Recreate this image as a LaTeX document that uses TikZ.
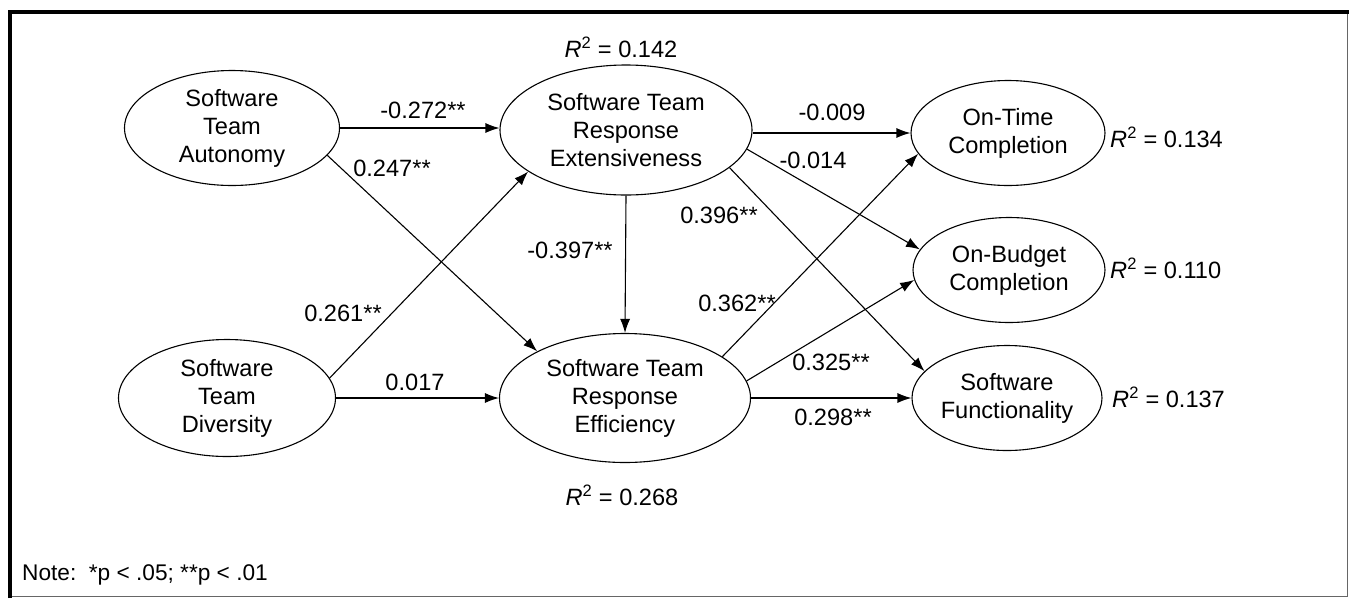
\documentclass[tikz,border=0pt]{standalone}
\usepackage{graphicx}
\usepackage{fontspec}
\setmainfont{Liberation Sans}
\usetikzlibrary{shapes.geometric,arrows.meta}
\newcommand{\rsqlabel}[1]{{\itshape R}\textsuperscript{2} = #1}

\begin{document}
\begin{tikzpicture}[x=1pt,y=-1pt,
  latent/.style={ellipse,draw,line width=1.1pt,inner sep=0pt,align=center,
                 font=\fontsize{23.6}{28}\selectfont},
  link/.style={line width=1.1pt,-{Latex[length=14pt,width=10pt]}},
  coef/.style={inner sep=0pt,font=\fontsize{23.6}{28}\selectfont},
]
\useasboundingbox (0,0) rectangle (1349,598);
\fill[white] (0,0) rectangle (1349,598);

% frame
\draw[line width=1.5pt,black!60] (1347.5,11.5) -- (1347.5,596.5) -- (10,596.5);
\draw[line width=4pt] (10,598) -- (10,11.5) -- (1349,11.5);

% constructs
\node[latent,minimum width=215pt,minimum height=115pt] (auto) at (232,128) {Software\\Team\\Autonomy};
\node[latent,minimum width=217pt,minimum height=117pt] (div) at (227,398) {Software\\Team\\Diversity};
\node[latent,minimum width=252pt,minimum height=130pt] (ext) at (626,130) {Software Team\\Response\\Extensiveness};
\node[latent,minimum width=251pt,minimum height=129pt] (eff) at (625,398) {Software Team\\Response\\Efficiency};
\node[latent,minimum width=194pt,minimum height=105pt] (ot) at (1008,133) {On-Time\\Completion};
\node[latent,minimum width=192pt,minimum height=105pt] (ob) at (1009,270) {On-Budget\\Completion};
\node[latent,minimum width=190pt,minimum height=105pt] (func) at (1007,398) {Software\\Functionality};

% paths
\draw[link] (auto.east) -- (auto.east -| ext.west);
\draw[link] (auto.-16.8) -- (eff.152.9);
\draw[link] (div.11.5) -- (ext.203.2);
\draw[link] (div.east) -- (eff.west);
\draw[link] (ext.south) -- (eff.north);
\draw[link] (ext.east |- ot.west) -- (ot.west);
\draw[link] (ext.-9.4) -- (ob.167.3);
\draw[link] (ext.-20.2) -- (func.162.4);
\draw[link] (eff.23.9) -- (ot.193);
\draw[link] (eff.8.5) -- (ob.186);
\draw[link] (eff.east) -- (func.west);

% path coefficients
\node[coef] (c1) at (423,110) {-0.272**};
\node[coef] (c2) at (392,168) {0.247**};
\node[coef] (c3) at (343,313) {0.261**};
\node[coef] (c4) at (415,382) {0.017};
\node[coef] (c5) at (570,250) {-0.397**};
\node[coef] (c6) at (832,112) {-0.009};
\node[coef] (c7) at (813,160) {-0.014};
\node[coef] (c8) at (719,215) {0.396**};
\node[coef] (c9) at (737,303) {0.362**};
\node[coef] (c10) at (831,362) {0.325**};
\node[coef] (c11) at (833,417) {0.298**};

% explained variance
\node[coef] (r1) at (621,47) {\rsqlabel{0.142}};
\node[coef] (r2) at (622,495) {\rsqlabel{0.268}};
\node[coef,anchor=west] (r3) at (1110,137) {\rsqlabel{0.134}};
\node[coef,anchor=west] (r4) at (1110,268) {\rsqlabel{0.110}};
\node[coef,anchor=west] (r5) at (1112,397) {\rsqlabel{0.137}};

% note
\node[inner sep=0pt,anchor=west,font=\fontsize{23.6}{28}\selectfont] (note) at (22,575) {\scalebox{0.96}{Note:\ \ *p < .05; **p < .01}};
\end{tikzpicture}
\end{document}
